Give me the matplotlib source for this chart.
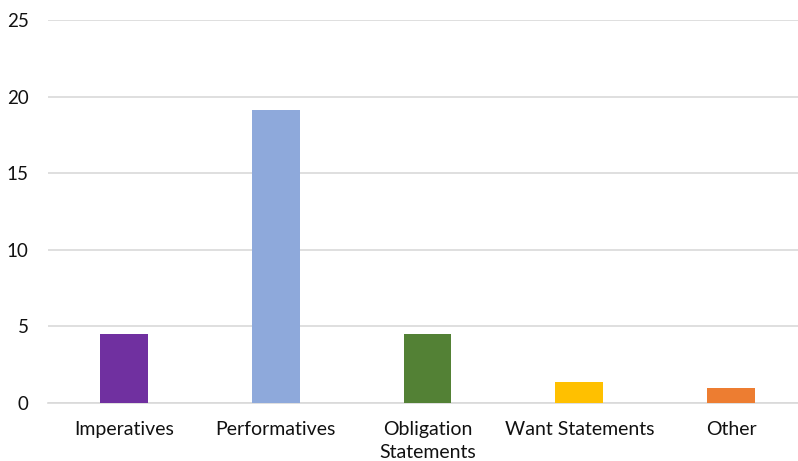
import matplotlib.pyplot as plt

categories = ['Imperatives', 'Performatives', 'Obligation\nStatements', 'Want Statements', 'Other']
values = [4.5, 19.1, 4.5, 1.4, 1.0]
colors = ['#7030A0', '#8EA9DB', '#538135', '#FFC000', '#ED7D31']
y_ticks = [0, 5, 10, 15, 20, 25]

plt.rcParams['font.family'] = ['Lato', 'DejaVu Sans']

fig = plt.figure(figsize=(7.98, 4.61), dpi=100)
ax = fig.add_axes([48 / 798, 1 - 403 / 461, 759 / 798, 383 / 461])

x = list(range(len(categories)))
ax.bar(x, values, width=0.316, color=colors, zorder=3)

ax.set_xlim(-0.5, len(categories) - 0.5)
ax.set_ylim(0, 25)
ax.set_yticks(y_ticks)
ax.set_xticks(x)
ax.set_xticklabels(categories, fontsize=14, color='#111111', linespacing=1.4)
ax.tick_params(axis='y', labelsize=13.5, labelcolor='#111111', length=0, pad=14)
ax.tick_params(axis='x', length=0, pad=13)

ax.yaxis.grid(True, color='#d9d9d9', linewidth=1.2, zorder=0)
for s in ['top', 'right', 'left']:
    ax.spines[s].set_visible(False)
ax.spines['bottom'].set_color('#d9d9d9')
ax.spines['bottom'].set_linewidth(1.2)

fig.savefig('out.png', dpi=100)
